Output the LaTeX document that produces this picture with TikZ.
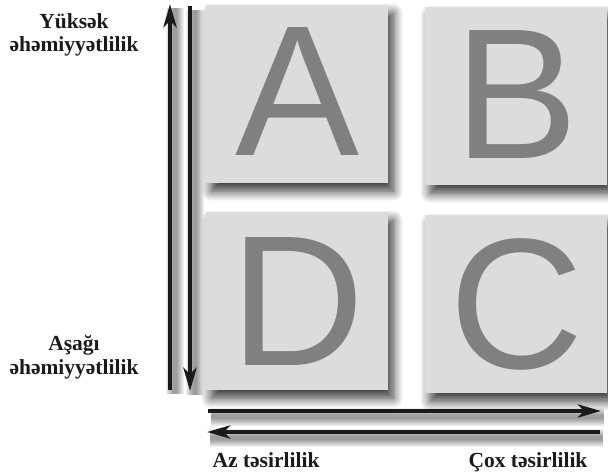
\documentclass[tikz,border=0pt]{standalone}
\usepackage{fontspec}
\setmainfont{Liberation Serif}
\newfontfamily\lblfont{Liberation Serif}
\newfontfamily\bigsans{Liberation Sans}
\usetikzlibrary{arrows.meta,shadows.blur,calc}
\definecolor{boxgray}{HTML}{DCDCDC}
\definecolor{lettergray}{HTML}{808080}
\definecolor{arrowblack}{HTML}{1A1A1A}
\tikzset{
  quad/.style={anchor=north west, fill=boxgray, minimum width=182pt, minimum height=178pt,
    inner sep=0pt, text=lettergray, font=\bigsans\fontsize{186}{186}\selectfont,
    blur shadow={shadow xshift=5pt, shadow yshift=-8pt, shadow blur radius=10pt, shadow blur steps=12, shadow opacity=80}},
  axisline/.style={draw=arrowblack, line width=4.6pt},
  axisarrow/.style={axisline, -{Stealth[length=23pt,width=13pt,inset=6pt]}},
  lbl/.style={anchor=base, font=\lblfont\bfseries\fontsize{21.5}{21.5}\selectfont, inner sep=0pt, text=arrowblack},
}
\newcommand{\lineshadow}[4]{%
  \foreach \w in {18,16,14,12,10,8,6,4}{%
    \draw[line width=\w pt, black, opacity=0.06] ($(#1)+(#3,#4)$) -- ($(#2)+(#3,#4)$);}}
\begin{document}
\begin{tikzpicture}[x=1pt,y=-1pt]
\useasboundingbox (0,0) rectangle (608,474);
% boxes
\node[quad] (A) at (206,5) {\raisebox{5pt}{A}};
\node[quad] (B) at (425,7) {\raisebox{3pt}{B}};
\node[quad] (D) at (206,212) {D};
\node[quad] (C) at (425,215) {C};
% axis coordinates
\coordinate (up0) at (170,390);
\coordinate (up1) at (170,4);
\coordinate (dn0) at (190,6);
\coordinate (dn1) at (190,391);
\coordinate (rt0) at (208,411);
\coordinate (rt1) at (601,411);
\coordinate (lt0) at (600,432);
\coordinate (lt1) at (207,432);
% shadows of axes
\lineshadow{up0}{up1}{5}{4}
\lineshadow{dn0}{dn1}{5}{4}
\lineshadow{rt0}{rt1}{3}{6}
\lineshadow{lt0}{lt1}{3}{6}
% axes
\draw[axisarrow] (up0) -- (up1);
\draw[axisarrow] (dn0) -- (dn1);
\draw[axisarrow] (rt0) -- (rt1);
\draw[axisarrow] (lt0) -- (lt1);
% labels
\node[lbl] (hi1) at (74,28) {Yüksək};
\node[lbl] (hi2) at (74,51) {əhəmiyyətlilik};
\node[lbl] (lo1) at (74,350) {Aşağı};
\node[lbl] (lo2) at (74,374) {əhəmiyyətlilik};
\node[lbl] (az) at (266,467) {Az təsirlilik};
\node[lbl] (cox) at (528,467) {Çox təsirlilik};
\end{tikzpicture}
\end{document}
